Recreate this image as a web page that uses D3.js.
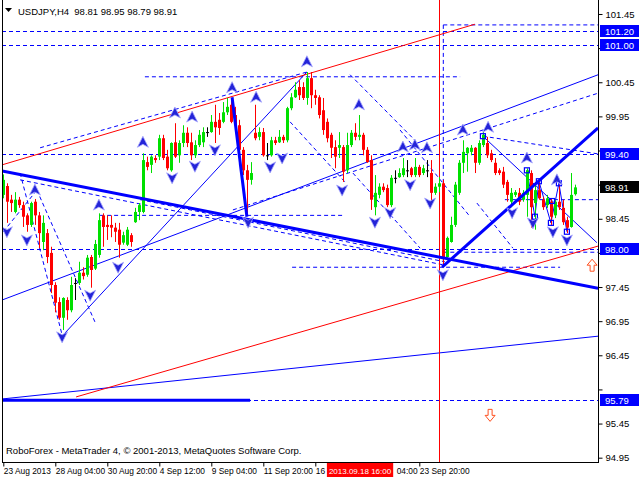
<!DOCTYPE html>
<html><head><meta charset="utf-8">
<script src="https://cdn.jsdelivr.net/npm/d3@7"></script>
<style>
body{margin:0;background:#fff}
svg{display:block}
text{font-family:"Liberation Sans",Arial,sans-serif;font-size:9.5px;white-space:pre}
</style>
</head><body>
<svg id="c" width="640" height="480"></svg>
<script>
// ---------- DATA ----------
const symbolTitle = "USDJPY,H4  98.81 98.95 98.79 98.91";
const copyright = "RoboForex - MetaTrader 4, \u00A9 2001-2013, MetaQuotes Software Corp.";

const opens = [98.80,98.93,98.73,98.55,98.73,98.65,98.50,98.36,98.70,98.50,98.11,98.24,97.95,97.48,97.23,97.00,97.26,97.11,97.51,97.51,
97.66,97.63,97.89,97.72,97.92,98.50,98.36,98.36,98.32,98.29,98.10,98.07,98.21,98.40,98.55,98.55,99.28,99.24,99.34,99.36,
99.63,99.36,99.16,99.57,99.38,99.56,99.71,99.57,99.38,99.53,99.57,99.72,99.72,99.87,99.90,99.87,100.01,100.12,99.97,99.82,
99.46,99.16,99.02,99.71,99.65,99.72,99.38,99.38,99.60,99.57,99.65,99.60,100.07,100.23,100.38,100.38,100.22,100.51,100.26,100.23,
100.04,99.87,99.68,99.50,99.49,99.50,99.16,99.53,99.71,99.65,99.68,99.46,99.31,98.62,98.80,98.92,98.90,98.65,99.05,99.06,
99.09,99.16,99.19,99.09,99.21,99.12,99.16,99.12,98.83,98.92,98.97,97.89,98.11,98.36,98.83,99.27,99.41,99.43,99.49,99.27,
99.53,99.56,99.41,99.27,99.16,99.14,98.99,98.70,98.80,98.83,98.73,98.80,99.12,98.68,98.87,98.73,98.65,98.70,98.50,98.70,
98.61,98.43,98.33,98.81];
const highs = [99.10,98.97,98.80,98.84,98.77,98.70,98.53,98.70,98.74,98.55,98.50,98.30,98.04,97.52,97.30,97.30,97.30,97.60,97.58,97.82,
97.74,97.92,97.92,98.14,98.53,98.53,98.50,98.50,98.39,98.39,98.26,98.33,98.24,98.61,98.68,99.41,99.36,99.38,99.38,99.68,
99.68,99.46,99.57,99.85,99.60,99.82,99.79,99.71,99.60,99.75,99.79,99.79,99.97,100.12,100.00,100.16,100.22,100.22,100.09,99.90,
99.50,99.24,99.28,100.12,99.79,99.78,99.56,99.65,99.65,99.75,99.68,100.09,100.29,100.45,100.48,100.45,100.60,100.60,100.34,100.26,
100.22,99.92,99.71,99.60,99.72,99.53,99.71,99.75,99.85,99.97,99.71,99.50,99.38,99.09,98.97,98.97,98.95,99.09,99.16,99.19,
99.34,99.31,99.21,99.34,99.24,99.24,99.31,99.31,98.97,99.06,99.02,98.19,98.48,98.99,99.31,99.60,99.50,99.53,99.50,99.60,
99.72,99.65,99.46,99.34,99.19,99.21,99.02,98.90,98.87,98.90,98.87,99.19,99.16,98.99,99.02,98.77,98.80,98.75,98.73,98.95,
98.73,98.48,99.12,98.95];
const lows = [98.75,98.39,98.55,98.53,98.61,98.33,98.26,98.33,98.36,98.02,97.99,97.80,97.36,97.08,96.97,96.82,96.97,97.08,97.26,97.48,
97.56,97.60,97.44,97.70,97.88,98.04,98.14,98.18,98.11,97.88,98.07,98.05,98.04,98.39,98.43,98.53,99.16,99.12,99.27,99.31,
99.31,99.16,99.14,99.34,99.27,99.50,99.50,99.31,99.34,99.50,99.50,99.65,99.71,99.56,99.68,99.85,99.97,99.85,99.79,99.41,
99.09,98.53,98.95,99.60,99.60,99.36,99.31,99.36,99.53,99.56,99.56,99.57,100.04,100.22,100.19,100.19,100.12,100.07,100.12,99.92,
99.68,99.57,99.34,99.19,99.34,98.99,99.12,99.50,99.60,99.60,99.38,99.27,98.58,98.50,98.75,98.84,98.62,98.62,98.97,99.05,
99.06,99.06,99.06,99.06,99.06,99.09,99.06,98.68,98.80,98.84,97.74,97.88,98.10,98.33,98.80,99.12,99.14,99.38,99.12,99.24,
99.50,99.34,99.28,99.09,99.09,98.90,98.70,98.62,98.77,98.65,98.70,98.48,98.32,98.29,98.73,98.58,98.61,98.36,98.46,98.58,
98.36,98.24,98.32,98.79];
const closes = [99.02,98.70,98.68,98.73,98.65,98.48,98.36,98.68,98.50,98.24,98.39,97.89,97.48,97.22,97.00,97.29,97.11,97.48,97.51,97.66,
97.61,97.88,97.70,98.08,98.43,98.33,98.33,98.32,98.26,98.07,98.21,98.29,98.11,98.55,98.65,99.31,99.21,99.36,99.31,99.63,
99.34,99.19,99.56,99.36,99.56,99.71,99.56,99.38,99.53,99.68,99.72,99.72,99.87,99.79,99.78,100.01,100.09,99.87,99.82,99.46,
99.16,99.02,99.12,99.63,99.72,99.38,99.38,99.60,99.56,99.65,99.60,100.07,100.23,100.34,100.26,100.22,100.51,100.26,100.22,99.97,
99.75,99.63,99.49,99.36,99.53,99.14,99.53,99.71,99.65,99.68,99.46,99.28,98.73,98.83,98.92,98.87,98.65,99.05,99.05,99.12,
99.19,99.16,99.09,99.21,99.09,99.19,99.16,98.83,98.92,98.97,97.89,98.17,98.36,98.95,99.27,99.43,99.49,99.49,99.27,99.56,
99.68,99.38,99.31,99.12,99.12,98.95,98.80,98.83,98.84,98.70,98.83,99.16,98.62,98.87,98.75,98.62,98.75,98.48,98.70,98.62,
98.40,98.32,98.80,98.91];

const priceTicks = [94.95,95.45,95.95,96.45,96.95,97.45,97.95,98.45,98.95,99.45,99.95,100.45,100.95,101.45];
const timeTickIndex = [0,13,26,39,52,65,78,91,104];
const timeTickLabels = ["23 Aug 2013","28 Aug 04:00","30 Aug 20:00","4 Sep 12:00","9 Sep 04:00","11 Sep 20:00","16 Sep 12:00","18 Sep 04:00","23 Sep 20:00"];
const levelPrices = [101.20,101.00,99.40,98.00,95.79];
const lastPrice = 98.91;
const markedTime = "2013.09.18 16:00";
const markedTimeIndex = 80.9;
const verticalLineIndex = 109;

// trend lines, endpoints as [bar index, price]
const thickBlueLines = [
  [[-0.3,99.15],[148.7,97.43]],
  [[109.7,97.74],[148.7,99.78]],
  [[57.2,100.23],[60.9,98.48]],
  [[-0.3,95.79],[61.7,95.79]]
];
const thinBlueLines = [
  [[-0.3,95.81],[148.7,96.73]],
  [[-0.3,97.26],[148.7,100.56]],
  [[15,96.75],[75.9,100.60]],
  [[119.9,99.66],[148.4,98.10]],
  [[130.9,99.16],[132.9,98.48],[133.9,99.00],[136.9,98.39],[138.9,98.97],[140.9,98.26]]
];
const dashedBlueLines = [
  [[35.4,100.53],[114.2,100.53]],
  [[110,101.29],[149,101.29]],
  [[24.2,98.50],[85.4,98.50]],
  [[72.2,97.74],[139.2,97.74]],
  [[125.4,98.73],[149,98.73]],
  [[110,101.29],[110,97.74]],
  [[110,97.96],[149,97.96]],
  [[57.4,98.58],[148.7,100.29]],
  [[9.2,99.49],[75.9,100.60]],
  [[4.2,99.12],[14.7,96.75]],
  [[8.4,98.87],[22.9,96.94]],
  [[0,98.26],[8.4,98.87]],
  [[86.7,100.56],[102.9,99.60]],
  [[71.7,99.87],[85.4,98.99]],
  [[4.2,99.02],[110.4,97.77]],
  [[34.2,98.73],[110.4,97.82]],
  [[119.9,99.66],[148.7,99.40]],
  [[99.2,99.75],[116.7,98.48]],
  [[87.4,99.12],[104.2,98.02]],
  [[118.4,98.68],[127.4,98.02]]
];
const redLines = [
  [[-0.3,99.24],[117.9,101.30]],
  [[18.2,95.84],[148.7,98.05]]
];
const upArrows = [[7.9,98.87],[23.9,98.65],[34.9,99.57],[42.9,100.0],[47.2,99.94],[57.2,100.37],[63.2,100.23],[75.9,100.75],
  [88.9,100.12],[99.9,99.50],[102.9,99.53],[105.9,99.49],[114.9,99.75],[121.2,99.79],[130.9,99.34],[138.4,99.02]];
const downArrows = [[0.9,98.26],[5.9,98.14],[14.7,96.72],[21.7,97.33],[28.7,97.74],[42.2,99.05],[47.9,99.22],[52.9,99.46],
  [61.2,98.40],[66.7,99.21],[69.7,99.34],[84.7,98.87],[92.9,98.40],[96.7,98.54],[101.7,98.95],[106.7,98.68],[109.9,97.63],
  [127.2,98.54],[132.4,98.39],[137.4,98.26],[140.9,98.14]];
const squares = [[119.9,99.66],[130.9,99.16],[132.9,98.48],[133.9,99.00],[136.9,98.39],[137.2,98.71],[138.9,98.97],[140.9,98.26]];
const signalUp = [[147.2,97.77]];
const signalDown = [[121.7,95.57]];

// ---------- CHART ----------
const svg = d3.select("#c");
const L = 2, R = 598, T = 0, B = 462;
const x = d3.scaleLinear().domain([0,149]).range([3.3,599.3]);
const y = d3.scaleLinear().domain([94.90,101.655]).range([461.1,0]);
const BLUE = "#0000ff", RED = "#ff0000", GREEN = "#00e000";
const FONT = "Liberation Sans, Arial, sans-serif";

svg.append("rect").attr("width",640).attr("height",480).attr("fill","#fff");
svg.append("defs").append("clipPath").attr("id","plot")
  .append("rect").attr("x",L).attr("y",T).attr("width",R-L).attr("height",B-T);
const plot = svg.append("g").attr("clip-path","url(#plot)");

const line = d3.line().x(d=>x(d[0])).y(d=>y(d[1]));

// horizontal labelled levels (dashed)
plot.selectAll(".lvl").data(levelPrices).join("line")
  .attr("x1",L).attr("x2",R).attr("y1",d=>Math.round(y(d))+0.5).attr("y2",d=>Math.round(y(d))+0.5)
  .attr("stroke",BLUE).attr("stroke-dasharray","4,3");

plot.selectAll(".db").data(dashedBlueLines).join("path")
  .attr("d",line).attr("fill","none").attr("stroke",BLUE).attr("stroke-width",1).attr("stroke-dasharray","4,3");
plot.selectAll(".tb").data(thinBlueLines).join("path")
  .attr("d",line).attr("fill","none").attr("stroke",BLUE).attr("stroke-width",1);
plot.selectAll(".rl").data(redLines).join("path")
  .attr("d",line).attr("fill","none").attr("stroke",RED).attr("stroke-width",1);

// vertical red line
plot.append("line").attr("x1",Math.round(x(verticalLineIndex))+0.5).attr("x2",Math.round(x(verticalLineIndex))+0.5)
  .attr("y1",T).attr("y2",B).attr("stroke",RED);

// candles
const candles = d3.range(opens.length).map(i=>({i,o:opens[i],h:highs[i],l:lows[i],c:closes[i]}));
const col = d => d.c > d.o ? GREEN : (d.c < d.o ? RED : "#000");
const cg = plot.append("g");
cg.selectAll(".w").data(candles).join("line")
  .attr("x1",d=>Math.round(x(d.i))+0.5).attr("x2",d=>Math.round(x(d.i))+0.5)
  .attr("y1",d=>y(d.h)).attr("y2",d=>y(d.l)).attr("stroke",col);
cg.selectAll(".b").data(candles).join("rect")
  .attr("x",d=>Math.round(x(d.i))-1).attr("width",3)
  .attr("y",d=>y(Math.max(d.o,d.c)))
  .attr("height",d=>Math.max(1,Math.abs(y(d.o)-y(d.c))))
  .attr("fill",col);

// thick blue lines on top
plot.selectAll(".kb").data(thickBlueLines).join("path")
  .attr("d",line).attr("fill","none").attr("stroke",BLUE).attr("stroke-width",3);

// squares
plot.selectAll(".sq").data(squares).join("rect")
  .attr("x",d=>x(d[0])-2.5).attr("y",d=>y(d[1])-2.5).attr("width",5).attr("height",5)
  .attr("fill","none").attr("stroke",BLUE).attr("stroke-width",1.2);

// arrows
const upPath = "M0,-6 L5.5,5 L0,2 L-5.5,5 Z";
const dnPath = "M0,6 L5.5,-5 L0,-2 L-5.5,-5 Z";
plot.selectAll(".ua").data(upArrows).join("path")
  .attr("d",upPath).attr("transform",d=>`translate(${x(d[0])},${y(d[1])})`)
  .attr("fill","#2424d8").attr("stroke","#a8a8ff").attr("stroke-width",0.8);
plot.selectAll(".da").data(downArrows).join("path")
  .attr("d",dnPath).attr("transform",d=>`translate(${x(d[0])},${y(d[1])})`)
  .attr("fill","#2424d8").attr("stroke","#a8a8ff").attr("stroke-width",0.8);

const blockUp = "M0,-6 L5,0 L2,0 L2,6 L-2,6 L-2,0 L-5,0 Z";
const blockDn = "M0,6 L5,0 L2,0 L2,-6 L-2,-6 L-2,0 L-5,0 Z";
plot.selectAll(".su").data(signalUp).join("path").attr("d",blockUp)
  .attr("transform",d=>`translate(${x(d[0])},${y(d[1])})`).attr("fill","#fff").attr("stroke","#ff5020");
plot.selectAll(".sd").data(signalDown).join("path").attr("d",blockDn)
  .attr("transform",d=>`translate(${x(d[0])},${y(d[1])})`).attr("fill","#fff").attr("stroke","#ff5020");

// frame
svg.append("line").attr("x1",L+0.5).attr("x2",L+0.5).attr("y1",T).attr("y2",B).attr("stroke","#000");
svg.append("line").attr("x1",R+0.5).attr("x2",R+0.5).attr("y1",T).attr("y2",B+0.5).attr("stroke","#000");
svg.append("line").attr("x1",L).attr("x2",R+1).attr("y1",B+0.5).attr("y2",B+0.5).attr("stroke","#000");

// price axis (tick labels hidden where a level box covers them, as in the terminal)
const boxed = levelPrices.concat([lastPrice]);
const yAxis = d3.axisRight(y).tickValues(priceTicks).tickSize(4).tickPadding(3).tickFormat(d3.format(".2f"));
const ya = svg.append("g").attr("transform",`translate(${R+0.5},0)`).call(yAxis);
ya.select(".domain").remove();
ya.selectAll("text").attr("fill","#000").style("font-size","9.5px").style("font-family",FONT)
  .filter(d=>boxed.some(b=>Math.abs(y(b)-y(d))<12)).remove();
ya.selectAll("line").attr("stroke","#000");

// level price boxes
const lv = svg.selectAll(".lb").data(levelPrices).join("g")
  .attr("transform",d=>`translate(${R+2},${Math.round(y(d))})`);
lv.append("rect").attr("x",0).attr("y",-6).attr("width",39).attr("height",12).attr("fill",BLUE);
lv.append("text").attr("x",5).attr("y",3.5).attr("fill","#fff").text(d=>d3.format(".2f")(d));
const lp = svg.append("g").attr("transform",`translate(${R+2},${Math.round(y(lastPrice))})`);
lp.append("rect").attr("x",0).attr("y",-6).attr("width",39).attr("height",12).attr("fill","#000");
lp.append("text").attr("x",5).attr("y",3.5).attr("fill","#fff").text(d3.format(".2f")(lastPrice));

// time axis
const xAxis = d3.axisBottom(x).tickValues(timeTickIndex).tickSize(4).tickPadding(2)
  .tickFormat((d,k)=>timeTickLabels[k]);
const xa = svg.append("g").attr("transform",`translate(0,${B+0.5})`).call(xAxis);
xa.select(".domain").remove();
xa.selectAll("line").attr("stroke","#000");
xa.selectAll("text").attr("text-anchor","start").attr("dx","0").attr("fill","#000")
  .style("font-size","8.4px").style("font-family",FONT);

// marked time box (covers the axis labels beneath it)
const mt = svg.append("g").attr("transform",`translate(${x(markedTimeIndex)},${B+1})`);
const mtRect = mt.append("rect").attr("x",0).attr("y",0).attr("height",14).attr("fill",RED);
const mtText = mt.append("text").attr("x",2).attr("y",10.5).attr("fill","#fff")
  .style("font-size","8px").text(markedTime);
mtRect.attr("width",mtText.node().getComputedTextLength()+4);

// clip axis labels hidden by the marked-time box
const bx0 = x(markedTimeIndex), bx1 = bx0 + mtText.node().getComputedTextLength()+4;
xa.selectAll(".tick").each(function(d){
  const t = d3.select(this).select("text");
  const tx = x(d), w = t.node().getComputedTextLength();
  if (tx < bx0 && tx + w > bx0) {
    // keep visible part only
    let s = t.text();
    while (s.length && tx + t.node().getComputedTextLength() > bx0 - 1) { s = s.slice(0,-1); t.text(s); }
  } else if (tx >= bx0 && tx < bx1) {
    let s = t.text(), cut = 0;
    const full = s;
    while (cut < full.length) {
      const pre = full.slice(0,cut+1);
      t.text(pre);
      if (tx + t.node().getComputedTextLength() > bx1 + 2) break;
      cut++;
    }
    const rest = full.slice(cut);
    t.text(full);
    const tmp = t.text(full.slice(0,cut));
    const off = t.node().getComputedTextLength();
    t.text(rest.trimStart()).attr("dx", off + (rest.length - rest.trimStart().length)*2.3);
  }
});

// title & copyright
svg.append("path").attr("d","M5,8 L12,8 L8.5,12 Z").attr("fill","#000");
svg.append("text").attr("x",18).attr("y",15).attr("fill","#000").text(symbolTitle);
svg.append("text").attr("x",6).attr("y",454).attr("fill","#000").text(copyright);
</script>
</body></html>
